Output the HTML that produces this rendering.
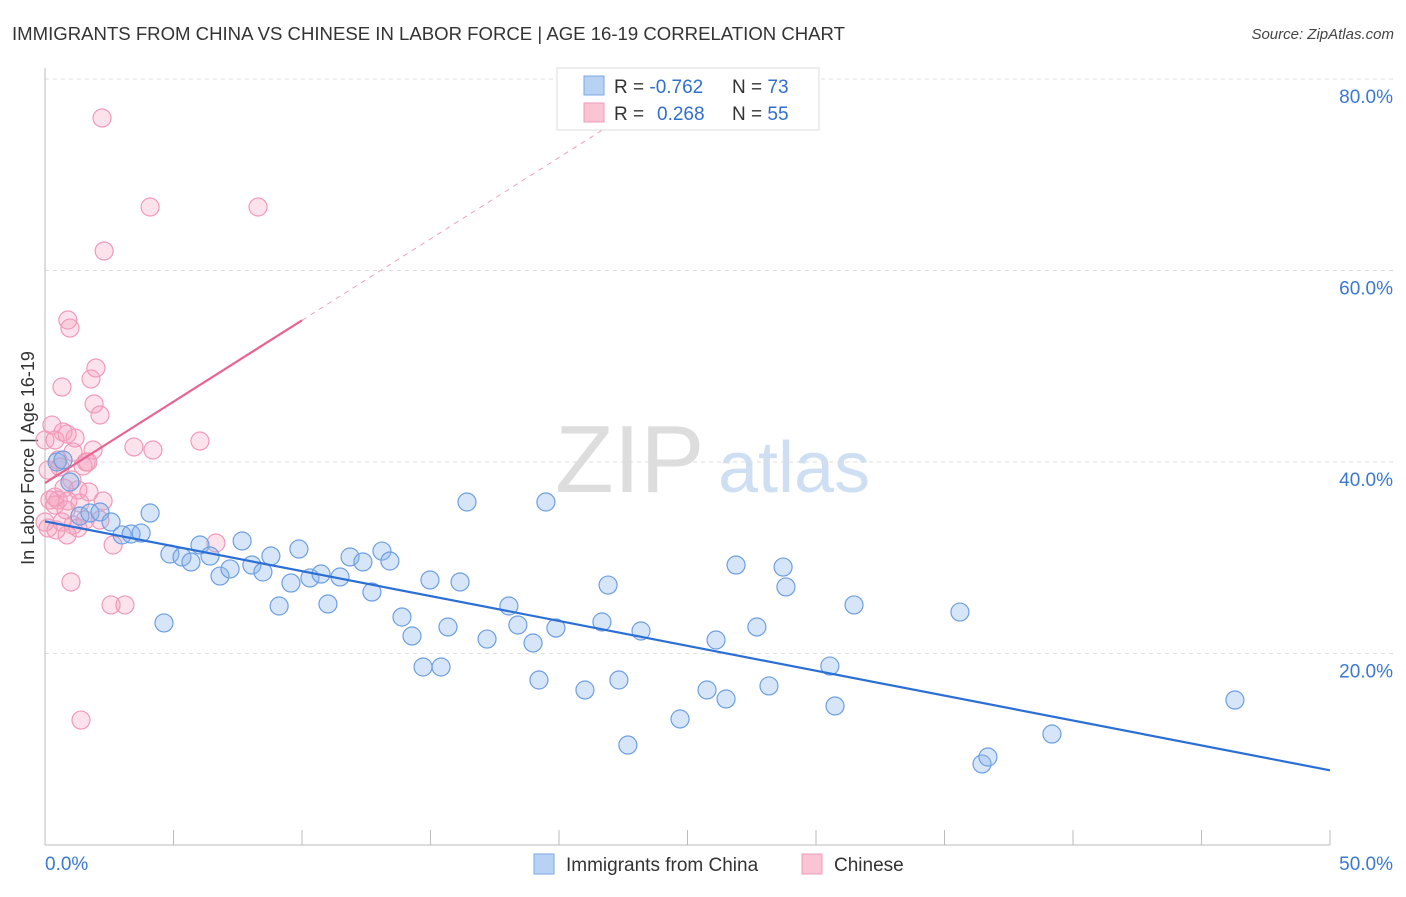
<!DOCTYPE html>
<html><head><meta charset="utf-8"><style>
body{margin:0;background:#fff;font-family:"Liberation Sans",sans-serif}
svg text{font-family:"Liberation Sans",sans-serif}
</style></head><body>
<svg id="c" width="1406" height="892">
<text x="12" y="40" font-size="18" fill="#333" textLength="833" lengthAdjust="spacingAndGlyphs">IMMIGRANTS FROM CHINA VS CHINESE IN LABOR FORCE | AGE 16-19 CORRELATION CHART</text>
<text x="1394" y="39" font-size="15" fill="#444" font-style="italic" text-anchor="end">Source: ZipAtlas.com</text>
<text x="555" y="492" font-size="96" fill="#ddd" font-family="Liberation Serif">ZIP</text>
<text x="718" y="492" font-size="72" fill="#cfdff3">atlas</text>
<text transform="translate(34,458) rotate(-90)" font-size="18" fill="#333" text-anchor="middle">In Labor Force | Age 16-19</text>
<g id="grid"></g><g id="pts"></g><g id="lines"></g>
<g>
<rect x="557" y="68" width="262" height="62" fill="#fff" stroke="#ddd"/>
<rect x="584" y="76" width="20" height="19" fill="#b8d2f4" stroke="#7aa8e4"/>
<rect x="584" y="103" width="20" height="19" fill="#f9c4d4" stroke="#f09ab4"/>
<text x="614" y="93" font-size="19" fill="#333">R = <tspan fill="#2f6fd0">-0.762</tspan><tspan x="732">N = </tspan><tspan fill="#2f6fd0">73</tspan></text>
<text x="614" y="120" font-size="19" fill="#333">R = <tspan x="657" fill="#2f6fd0">0.268</tspan><tspan x="732">N = </tspan><tspan fill="#2f6fd0">55</tspan></text>
</g>
<g>
<rect x="534" y="854" width="20" height="20" fill="#b8d2f4" stroke="#7aa8e4"/>
<text x="566" y="871" font-size="19" fill="#333">Immigrants from China</text>
<rect x="802" y="854" width="20" height="20" fill="#f9c4d4" stroke="#f09ab4"/>
<text x="834" y="871" font-size="19" fill="#333">Chinese</text>
</g>
</svg>
<script>
const yTicks=[20,40,60,80];
const xTickLabels=["0.0%","50.0%"];
const bluePx=[[57,462],[63,460],[70,482],[80,516],[90,513],[100,512],[111,522],[122,535],[131,534],[141,533],[150,513],[164,623],[170,554],[182,557],[191,562],[200,545],[210,556],[220,576],[230,569],[242,541],[252,565],[263,572],[271,556],[279,606],[291,583],[299,549],[310,578],[321,574],[328,604],[340,577],[350,557],[363,562],[372,592],[382,551],[390,561],[402,617],[412,636],[423,667],[430,580],[441,667],[448,627],[460,582],[467,502],[487,639],[509,606],[518,625],[533,643],[539,680],[546,502],[556,628],[585,690],[602,622],[608,585],[619,680],[628,745],[641,631],[680,719],[707,690],[716,640],[726,699],[736,565],[757,627],[769,686],[783,567],[786,587],[830,666],[835,706],[854,605],[960,612],[982,764],[988,757],[1052,734],[1235,700]];
const pinkPx=[[102,118],[150,207],[258,207],[104,251],[68,320],[70,328],[96,368],[91,379],[62,387],[94,404],[100,415],[52,425],[63,432],[55,440],[67,434],[75,438],[200,441],[134,447],[153,450],[93,450],[73,452],[58,460],[86,462],[83,466],[60,467],[72,480],[78,490],[64,488],[89,492],[55,497],[50,500],[58,500],[103,501],[68,501],[80,503],[55,505],[45,522],[62,522],[73,525],[48,528],[78,528],[67,535],[113,545],[216,543],[71,582],[111,605],[125,605],[81,720],[45,440],[48,470],[100,520],[88,462],[56,530],[66,510],[85,520]];
// convert read pixel positions to data values (x %, y %)
const chinaX=bluePx.map(p=>+((p[0]-45)/25.7).toFixed(2)), chinaY=bluePx.map(p=>+((845-p[1])/9.575).toFixed(2));
const chineseX=pinkPx.map(p=>+((p[0]-45)/25.7).toFixed(2)), chineseY=pinkPx.map(p=>+((845-p[1])/9.575).toFixed(2));
const blueTrendX=[0,50], blueTrendY=[33.8,7.8];
const pinkTrendX=[0,10], pinkTrendY=[37.8,54.8];
const pinkDashX=[10,22], pinkDashY=[54.8,75.2];
const sx=v=>45+v*25.7, sy=v=>845-v*9.575;
const NS="http://www.w3.org/2000/svg";
function mk(t,a,p){const e=document.createElementNS(NS,t);for(const k in a)e.setAttribute(k,a[k]);p.appendChild(e);return e;}
const g=document.getElementById('grid');
for(const t of yTicks){
 const l=mk('line',{x1:45,x2:1393,y1:sy(t),y2:sy(t),stroke:'#ddd','stroke-dasharray':'4,4'},g);
 
 
 const tx=mk('text',{x:1393,y:sy(t)+24,'font-size':19,fill:'#3a78d4','text-anchor':'end'},g);tx.textContent=t.toFixed(1)+'%';
 
 
}
const ax=mk('line',{x1:45,x2:45,y1:68,y2:845,stroke:'#bbb'},g);


const bx=mk('line',{x1:45,x2:1330,y1:845,y2:845,stroke:'#bbb'},g);


for(let i=0;i<=10;i++){const tk=mk('line',{x1:sx(i*5),x2:sx(i*5),y1:830,y2:845,stroke:'#bbb'},g);
 
 }
const xl0=mk('text',{x:45,y:870,'font-size':19,fill:'#3a78d4'},g);xl0.textContent=xTickLabels[0];


const xl1=mk('text',{x:1393,y:870,'font-size':19,fill:'#3a78d4','text-anchor':'end'},g);xl1.textContent=xTickLabels[1];


const P=document.getElementById('pts');
chineseX.forEach((x,i)=>{const c=mk('circle',{cx:sx(x),cy:sy(chineseY[i]),r:9,fill:'rgba(246,160,190,0.3)',stroke:'#f19ab6','stroke-width':1.2},P);
 
 });
chinaX.forEach((x,i)=>{const c=mk('circle',{cx:sx(x),cy:sy(chinaY[i]),r:9,fill:'rgba(140,180,235,0.35)',stroke:'#6d9fe2','stroke-width':1.2},P);
 
 });
const L=document.getElementById('lines');
const b=mk('line',{x1:sx(blueTrendX[0]),y1:sy(blueTrendY[0]),x2:sx(blueTrendX[1]),y2:sy(blueTrendY[1]),stroke:'#2b6fd6','stroke-width':2.2},L);


const p=mk('line',{x1:sx(pinkTrendX[0]),y1:sy(pinkTrendY[0]),x2:sx(pinkTrendX[1]),y2:sy(pinkTrendY[1]),stroke:'#e8648e','stroke-width':2.2},L);


const d=mk('line',{x1:sx(pinkDashX[0]),y1:sy(pinkDashY[0]),x2:sx(pinkDashX[1]),y2:sy(pinkDashY[1]),stroke:'#f0a0b8','stroke-width':1,'stroke-dasharray':'5,5'},L);


</script>
</body></html>
